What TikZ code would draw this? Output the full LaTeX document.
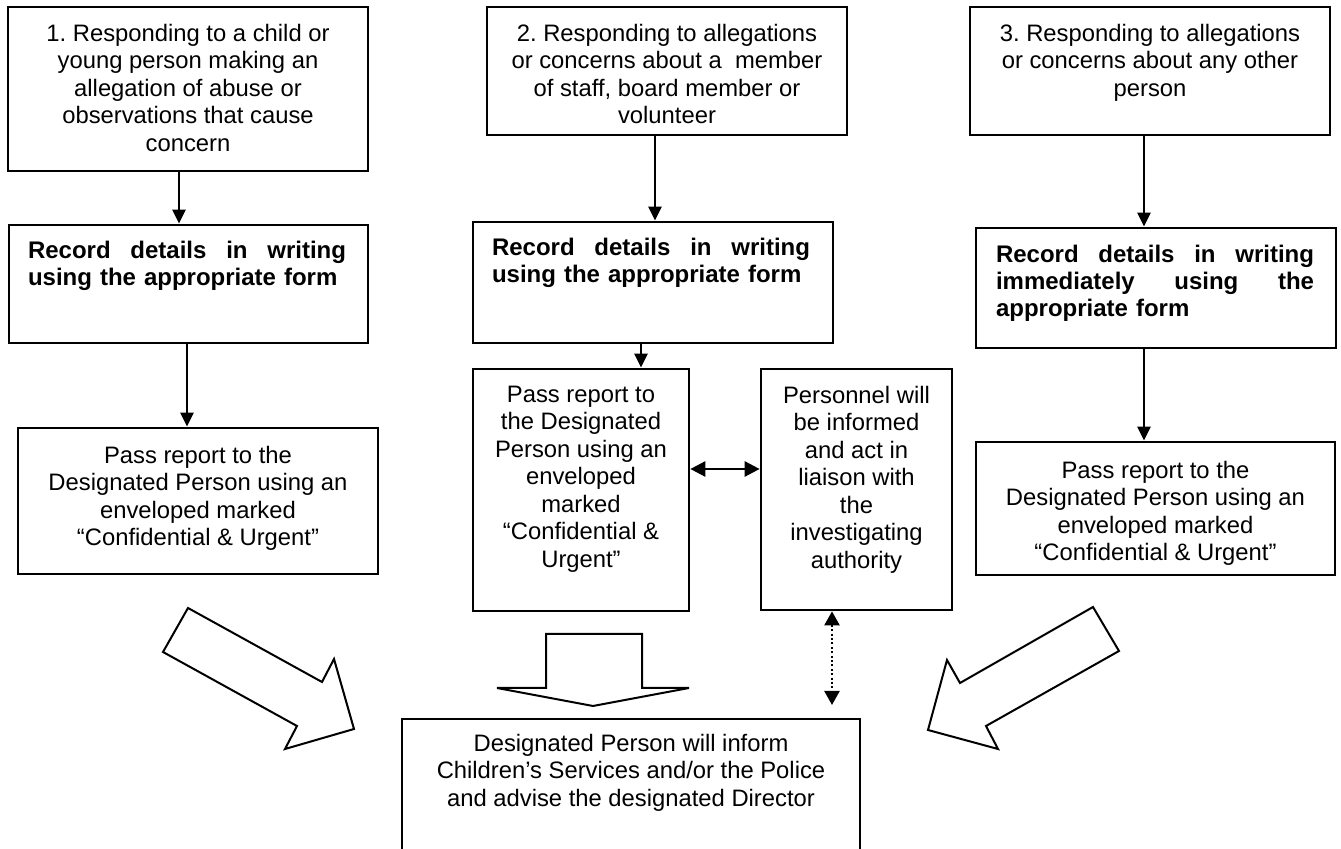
\documentclass[tikz,border=0pt]{standalone}
\usepackage{fontspec}
\setmainfont{Liberation Sans}
\usetikzlibrary{arrows.meta}
\tikzset{
  box/.style={draw, line width=1.35pt, inner sep=0pt},
  txt/.style={inner sep=0pt, align=center, font=\fontsize{11.9}{13.75}\selectfont\frenchspacing},
  btxt/.style={inner sep=0pt, align=left, text width=159pt, font=\fontsize{12}{13.4}\selectfont\bfseries\frenchspacing},
  conn/.style={line width=1.3pt, -{Triangle[length=7pt,width=6.5pt]}},
  dconn/.style={line width=1.3pt, {Triangle[length=7.5pt,width=7.5pt]}-{Triangle[length=7.5pt,width=7.5pt]}},
  dotconn/.style={line width=1.1pt, dash pattern=on 1pt off 1.2pt, {Triangle[length=7pt,width=7.5pt]}-{Triangle[length=7pt,width=7.5pt]}},
  blockarrow/.style={draw, line width=1pt, line join=miter, fill=white},
}
\newcommand\jline[1]{\leavevmode\hbox to 159pt{#1}}
\begin{document}
\begin{tikzpicture}[x=0.5pt,y=-0.5pt]
\useasboundingbox (0,0) rectangle (1341,849);
\clip (0,0) rectangle (1341,849);

% boxes
\node[box, minimum width=180pt, minimum height=82pt] (b1) at (188,89) {};
\node[box, minimum width=179.5pt, minimum height=59pt] (r1) at (188.5,284) {};
\node[box, minimum width=180pt, minimum height=73pt] (p1) at (198,501) {};
\node[box, minimum width=180pt, minimum height=64pt] (b2) at (667,71) {};
\node[box, minimum width=180pt, minimum height=60.5pt] (r2) at (653,282.5) {};
\node[box, minimum width=108pt, minimum height=121pt] (p2) at (581,490) {};
\node[box, minimum width=95.5pt, minimum height=120.5pt] (pe) at (856.5,489.5) {};
\node[box, minimum width=180pt, minimum height=64pt] (b3) at (1150,71) {};
\node[box, minimum width=180pt, minimum height=60pt] (r3) at (1156,288) {};
\node[box, minimum width=179.5pt, minimum height=66.5pt] (p3) at (1155.5,508.5) {};
\node[box, minimum width=229pt, minimum height=81pt] (bot) at (631,800) {};

% texts
\node[txt, anchor=north] (t1) at ([yshift=-9pt]b1.north) {1. Responding to a child or\\young person making an\\allegation of abuse or\\observations that cause\\concern};
\node[txt, anchor=north] (t2) at ([yshift=-9pt]b2.north) {2. Responding to allegations\\or concerns about a\ \ member\\of staff, board member or\\volunteer};
\node[txt, anchor=north] (t3) at ([yshift=-9pt]b3.north) {3. Responding to allegations\\or concerns about any other\\person};

\node[btxt, anchor=north west] (tr1) at ([xshift=10pt,yshift=-8.5pt]r1.north west) {\jline{Record\hfill details\hfill in\hfill writing}\\using the appropriate form};
\node[btxt, anchor=north west] (tr2) at ([xshift=10pt,yshift=-8.5pt]r2.north west) {\jline{Record\hfill details\hfill in\hfill writing}\\using the appropriate form};
\node[btxt, anchor=north west] (tr3) at ([xshift=10.5pt,yshift=-9pt]r3.north west) {\jline{Record\hfill details\hfill in\hfill writing}\\\jline{immediately\hfill using\hfill the}\\appropriate form};

\node[txt, anchor=north] (tp1) at ([yshift=-9.5pt]p1.north) {Pass report to the\\Designated Person using an\\enveloped marked\\“Confidential \& Urgent”};
\node[txt, anchor=north] (tp2) at ([yshift=-9pt]p2.north) {Pass report to\\the Designated\\Person using an\\enveloped\\marked\\“Confidential \&\\Urgent”};
\node[txt, anchor=north] (tpe) at ([yshift=-9pt]pe.north) {Personnel will\\be informed\\and act in\\liaison with\\the\\investigating\\authority};
\node[txt, anchor=north] (tp3) at ([yshift=-10pt]p3.north) {Pass report to the\\Designated Person using an\\enveloped marked\\“Confidential \& Urgent”};
\node[txt, anchor=north] (tb) at ([yshift=-8pt]bot.north) {Designated Person will inform\\Children’s Services and/or the Police\\and advise the designated Director};

% connectors
\coordinate (c1) at (179,0);
\coordinate (c1b) at (187,0);
\coordinate (c2) at (655,0);
\coordinate (c2b) at (641,0);
\coordinate (c3) at (1144,0);
\coordinate (dy) at (0,469);
\coordinate (dx) at (832,0);
\coordinate (dend) at (832,705);
\draw[conn] (c1 |- b1.south) -- (c1 |- r1.north);
\draw[conn] (c1b |- r1.south) -- (c1b |- p1.north);
\draw[conn] (c2 |- b2.south) -- (c2 |- r2.north);
\draw[conn] (c2b |- r2.south) -- (c2b |- p2.north);
\draw[conn] (c3 |- b3.south) -- (c3 |- r3.north);
\draw[conn] (c3 |- r3.south) -- (c3 |- p3.north);
\draw[dconn] (p2.east |- dy) -- (pe.west |- dy);
\draw[dotconn] (dx |- pe.south) -- (dend);

% block arrows
\draw[blockarrow] (188,608) -- (322,682) -- (334,659) -- (354,729) -- (285,749) -- (297,726) -- (163,652) -- cycle;
\draw[blockarrow] (546,634) -- (642,634) -- (642,688) -- (689,688) -- (593,706) -- (497,688) -- (546,688) -- cycle;
\draw[blockarrow] (1093,607) -- (1119,651) -- (986,726) -- (998,749) -- (928,730) -- (947,660) -- (960,683) -- cycle;
\end{tikzpicture}
\end{document}
